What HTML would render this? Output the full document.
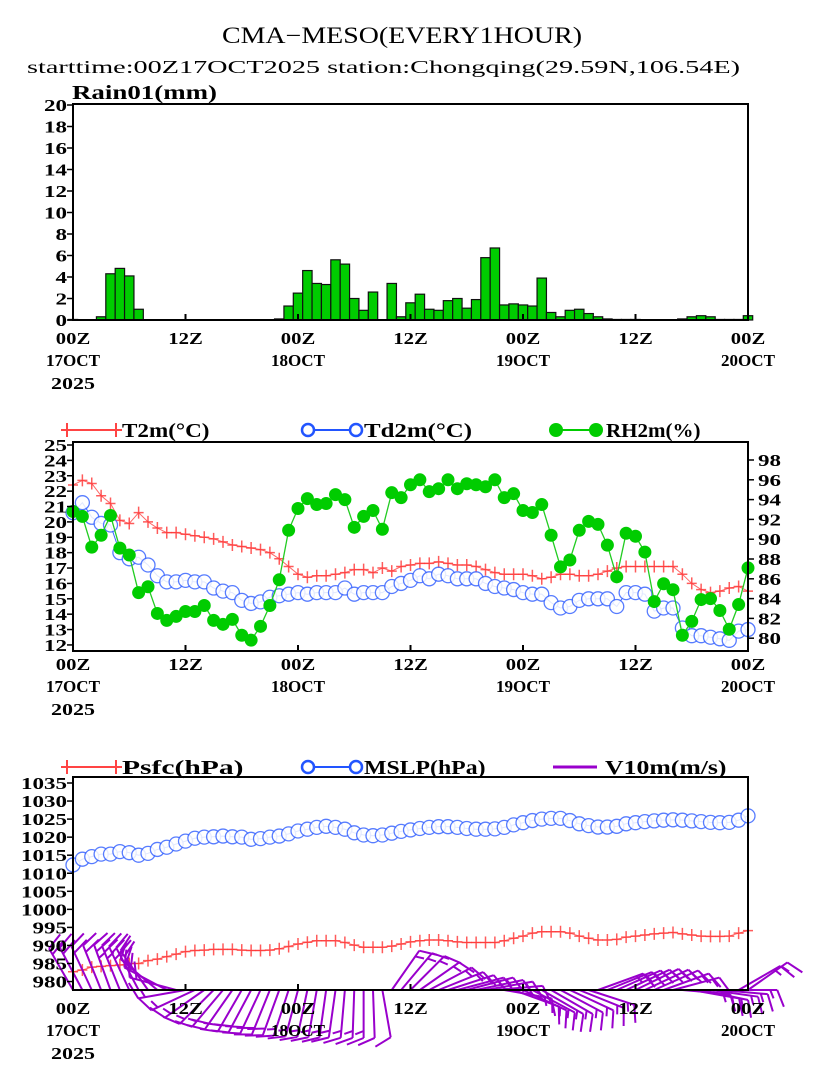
<!DOCTYPE html>
<html><head><meta charset="utf-8">
<style>
body{margin:0;background:#fff;}
svg text{font-family:"Liberation Serif",serif;fill:#000;}
.t{font-weight:bold;font-size:17px;}
</style></head>
<body>
<svg id="chart" width="822" height="1065" viewBox="0 0 822 1065" xmlns="http://www.w3.org/2000/svg">
<rect width="822" height="1065" fill="#fff"/>
<text x="402" y="43" text-anchor="middle" font-size="23" textLength="360" lengthAdjust="spacingAndGlyphs">CMA−MESO(EVERY1HOUR)</text>
<text x="27" y="73" font-size="18" textLength="713" lengthAdjust="spacingAndGlyphs">starttime:00Z17OCT2025    station:Chongqing(29.59N,106.54E)</text>
<g id="g1"></g>
<g id="g2"></g>
<g id="g3"></g>
</svg>
<script>
const hours = Array.from({length:73},(_, i)=>i);
const rain = [0.05,0,0,0.3,4.3,4.8,4.1,1.0,0,0, 0,0,0,0,0,0,0,0,0,0, 0,0,0.1,1.3,2.5,4.6,3.4,3.3,5.6,5.2, 2.0,0.9,2.6,0,3.4,0.3,1.6,2.4,1.0,0.9, 1.8,2.0,1.1,1.9,5.8,6.7,1.4,1.5,1.4,1.3, 3.9,0.7,0.3,0.9,1.0,0.6,0.3,0.1,0.05,0.05, 0.05,0,0,0,0,0.1,0.3,0.4,0.3,0.05, 0.05,0.05,0.4];
const t2m = [22.4,22.7,22.5,21.7,21.2,20.1,19.9,20.6,20.0,19.6,19.3,19.3,19.2,19.1,19.0,18.9,18.7,18.5,18.4,18.3,18.2,18.0,17.6,17.1,16.6,16.4,16.5,16.5,16.6,16.7,16.9,16.9,16.7,17.0,16.8,17.1,17.2,17.3,
17.3,17.4,17.3,17.2,17.2,17.1,16.9,16.7,16.6,16.6,16.6,16.5,16.3,16.4,16.6,16.6,16.5,16.5,16.6,16.8,17.0,17.1,17.1,17.1,17.1,17.1,17.1,16.6,16.0,15.6,15.4,15.5,15.7,15.8,15.5];
const td2m = [20.6,21.25,20.3,19.9,19.8,18.0,17.6,17.7,17.2,16.5,16.1,16.1,16.2,16.1,16.1,15.7,15.5,15.4,14.9,14.7,14.8,15.1,15.2,15.3,15.4,15.3,15.4,15.4,15.4,15.7,15.3,15.4,15.4,15.4,15.8,16.0,16.2,16.5,
16.3,16.6,16.5,16.3,16.3,16.3,16.0,15.8,15.7,15.6,15.4,15.3,15.3,14.75,14.4,14.5,14.9,15.0,15.0,15.0,14.5,15.4,15.4,15.3,14.2,14.4,14.4,13.1,12.6,12.6,12.5,12.4,12.3,12.9,13.0];
const rh2m = [92.8,92.3,89.2,90.4,92.4,89.1,88.4,84.6,85.2,82.5,81.8,82.2,82.7,82.7,83.3,81.8,81.4,81.9,80.3,79.8,81.2,83.3,85.9,90.9,93.1,94.1,93.5,93.6,94.5,94.0,91.2,92.3,92.9,91.0,94.7,94.2,95.5,96.0,
94.8,95.1,96.0,95.1,95.6,95.5,95.3,96.0,94.2,94.6,92.9,92.7,93.5,90.4,87.2,87.9,90.9,91.8,91.5,89.4,86.2,90.6,90.3,88.7,83.7,85.5,84.9,80.3,81.7,83.9,84.0,82.8,80.9,83.4,87.1];
const mslp = [1012.3,1013.9,1014.6,1015.3,1015.3,1016,1015.7,1015,1015.5,1016.6,1017.2,1018.1,1018.9,1019.7,1020,1020.1,1020.3,1020.1,1020,1019.4,1019.6,1020,1020.3,1020.9,1021.7,1022.2,1022.7,1023,1022.7,1022.2,1021.2,1020.6,1020.4,1020.6,1021.1,1021.6,1022.0,1022.4,1022.7,1022.9,1022.9,1022.7,1022.4,1022.2,1022.2,1022.3,1022.7,1023.4,1024,1024.6,1025,1025.2,1025.2,1024.6,1023.7,1023.2,1022.8,1022.8,1023.0,1023.7,1024,1024.3,1024.5,1024.7,1024.8,1024.7,1024.5,1024.3,1024.1,1024,1024.1,1024.7,1025.9];
const psfc = [982.7,983.2,984,984.2,984.4,984.6,985,985,985.8,986.2,986.9,987.6,988.3,988.6,988.7,988.9,988.9,988.9,988.7,988.6,988.6,988.7,989.1,989.7,990.4,990.9,991.3,991.3,991.3,990.8,990.1,989.5,989.5,989.5,989.8,990.4,991,991.3,991.5,991.5,991.3,991,990.8,990.8,990.8,990.8,991.3,992,992.6,993.4,993.8,993.8,993.8,993.4,992.6,992,991.5,991.5,991.7,992.3,992.6,992.9,993.2,993.4,993.6,993.2,992.9,992.6,992.5,992.5,992.6,993.4,994.1];
const windAng = [-30,-28,-25,-22,-20,-22,-25,-28,-35,-50,-62,-75,-100,-115,-125,-135,-140,-145,-150,-152,-155,-158,-160,-162,-165,-168,-170,-172,-172,-175,-178,180,178,170,35,40,45,55,62,68,72,75,75,78,80,85,100,110,115,118,120,120,118,115,112,108,70,68,66,65,64,65,66,70,75,95,100,102,98,95,90,60,55];
const windSpd = [8,8,9,9,10,10,10,9,9,8,8,8,7,7,7,7,7,8,8,8,8,8,8,7,7,7,7,6,6,6,6,6,5,5,6,6,7,7,7,7,7,7,7,6,6,6,6,6,7,7,7,7,7,6,6,6,6,6,6,6,7,7,7,7,6,6,6,6,6,6,6,6,6];
const rainTicks=[0,2,4,6,8,10,12,14,16,18,20];
const tTicks=[12,13,14,15,16,17,18,19,20,21,22,23,24,25];
const rhTicks=[80,82,84,86,88,90,92,94,96,98];
const pTicks=[980,985,990,995,1000,1005,1010,1015,1020,1025,1030,1035];
const xTicks=[0,12,24,36,48,60,72];
const xLab1=["00Z","12Z","00Z","12Z","00Z","12Z","00Z"];
const xLab2=["17OCT","","18OCT","","19OCT","","20OCT"];

const NS="http://www.w3.org/2000/svg";
function mk(p,tag,at){const e=document.createElementNS(NS,tag);for(const k in at)e.setAttribute(k,at[k]);p.appendChild(e);return e;}
function fit(t,cw){t.setAttribute('textLength',String(t.textContent.length*cw));t.setAttribute('lengthAdjust','spacingAndGlyphs');}
const X0=73,X1=748;
const xS=h=>X0+h*(X1-X0)/72;
const yR=v=>320-v*10.75;
const yT=v=>445+(25-v)*15.38;
const yH=v=>460+(98-v)*9.9;
const yP=v=>783+(1035-v)*3.61;

function xAxis(g,yb,yl){
  xTicks.forEach((h,k)=>{
    mk(g,'line',{x1:xS(h),x2:xS(h),y1:yb,y2:yb-6,stroke:'#000','stroke-width':2});
    let t=mk(g,'text',{x:xS(h),y:yl,'text-anchor':'middle',class:'t'});t.textContent=xLab1[k];fit(t,11.5);
    
    
    if(xLab2[k]){let t2=mk(g,'text',{x:xS(h),y:yl+22,'text-anchor':'middle',class:'t'});t2.textContent=xLab2[k];fit(t2,10.8);
      
      }
  });
  let y=mk(g,'text',{x:xS(0),y:yl+45,'text-anchor':'middle',class:'t'});y.textContent='2025';fit(y,11);
  
  
}
function yAxis(g,ticks,f,x,right){
  ticks.forEach(v=>{
    mk(g,'line',{x1:x,x2:right?x+6:x-6,y1:f(v),y2:f(v),stroke:'#000','stroke-width':1.5});
    let t=mk(g,'text',{x:right?x+10:x-6,y:f(v)+6,'text-anchor':right?'start':'end',class:'t'});t.textContent=v;fit(t,11.5);
    
    
  });
}
function cross(g,x,y,c){mk(g,'path',{d:`M${x-5},${y}H${x+5}M${x},${y-6}V${y+6}`,stroke:c,'stroke-width':1.5,opacity:0.8});}
function circ(g,x,y){mk(g,'circle',{cx:x,cy:y,r:7,fill:'#fff',stroke:'#3a66ff','stroke-width':1.3,opacity:0.85});}
function dot(g,x,y){mk(g,'circle',{cx:x,cy:y,r:6.5,fill:'#00cc00'});}
function line(g,arr,f,c,w){mk(g,'polyline',{points:arr.map((v,i)=>xS(i)+','+f(v)).join(' '),fill:'none',stroke:c,'stroke-width':w});}

// Panel 1
const g1=document.getElementById('g1');
rain.forEach((v,i)=>{ if(v<=0) return;
  const b=mk(g1,'rect',{x:xS(i)-4.7,y:yR(v),width:9.4,height:Math.max(320-yR(v),0.8),fill:'#00cc00',stroke:'#111','stroke-width':1.2});
  
  
});
mk(g1,'rect',{x:X0,y:104,width:X1-X0,height:216,fill:'none',stroke:'#000','stroke-width':2});
yAxis(g1,rainTicks,yR,X0,false);
xAxis(g1,320,344);
let rt=mk(g1,'text',{x:72,y:99,class:'t'});rt.textContent='Rain01(mm)';fit(rt,14.5);

// Panel 2
const g2=document.getElementById('g2');
line(g2,t2m,yT,'#ff6666',1);
t2m.forEach((v,i)=>cross(g2,xS(i),yT(v),'#ff3333'));
line(g2,td2m,yT,'#3a66ff',1);
td2m.forEach((v,i)=>circ(g2,xS(i),yT(v)));
line(g2,rh2m,yH,'#22cc22',1.3);
rh2m.forEach((v,i)=>dot(g2,xS(i),yH(v)));
mk(g2,'rect',{x:X0,y:442,width:X1-X0,height:209,fill:'none',stroke:'#000','stroke-width':2});
yAxis(g2,tTicks,yT,X0,false);
yAxis(g2,rhTicks,yH,X1,true);
xAxis(g2,651,670);
// legend 2
mk(g2,'line',{x1:65,x2:118,y1:430,y2:430,stroke:'#ff4444','stroke-width':2});
[67,116].forEach(x=>mk(g2,'path',{d:`M${x-6},430H${x+6}M${x},423V437`,stroke:'#ff4444','stroke-width':2}));
let l1=mk(g2,'text',{x:122,y:437,class:'t'});l1.textContent='T2m(°C)';fit(l1,12.5);
mk(g2,'line',{x1:308,x2:356,y1:430,y2:430,stroke:'#2255ff','stroke-width':2});
[308,356].forEach(x=>mk(g2,'circle',{cx:x,cy:430,r:6,fill:'#fff',stroke:'#2255ff','stroke-width':2.5}));
let l2=mk(g2,'text',{x:364,y:437,class:'t'});l2.textContent='Td2m(°C)';fit(l2,13.5);
mk(g2,'line',{x1:556,x2:596,y1:430,y2:430,stroke:'#00cc00','stroke-width':2});
[556,596].forEach(x=>mk(g2,'circle',{cx:x,cy:430,r:7,fill:'#00cc00'}));
let l3=mk(g2,'text',{x:606,y:437,class:'t'});l3.textContent='RH2m(%)';fit(l3,13.5);

// Panel 3
const g3=document.getElementById('g3');
line(g3,psfc,yP,'#ff6666',1);
psfc.forEach((v,i)=>cross(g3,xS(i),yP(v),'#ff3333'));
line(g3,mslp,yP,'#3a66ff',1);
mslp.forEach((v,i)=>circ(g3,xS(i),yP(v)));
windAng.forEach((a,i)=>{
  const r=a*Math.PI/180, L=48, bx=xS(i), by=990;
  const dx=Math.sin(r), dy=-Math.cos(r);
  const tx=bx+dx*L, ty=by+dy*L;
  let d=`M${bx},${by}L${tx},${ty}`;
  let s=windSpd[i], pos=0;
  const br=r+Math.PI*0.38, fx=Math.sin(br), fy=-Math.cos(br);
  while(s>=4){const px=tx-dx*pos, py=ty-dy*pos; d+=`M${px},${py}l${fx*18},${fy*18}`; s-=4; pos+=7;}
  if(s>=2){const px=tx-dx*pos, py=ty-dy*pos; d+=`M${px},${py}l${fx*9},${fy*9}`;}
  const p=mk(g3,'path',{d:d,stroke:'#9900cc','stroke-width':2,fill:'none'});
  
  
});
mk(g3,'rect',{x:X0,y:777,width:X1-X0,height:213,fill:'none',stroke:'#000','stroke-width':2});
yAxis(g3,pTicks,yP,X0,false);
xAxis(g3,990,1014);
mk(g3,'line',{x1:65,x2:118,y1:767,y2:767,stroke:'#ff4444','stroke-width':2});
[67,116].forEach(x=>mk(g3,'path',{d:`M${x-6},767H${x+6}M${x},760V774`,stroke:'#ff4444','stroke-width':2}));
let l4=mk(g3,'text',{x:122,y:774,class:'t'});l4.textContent='Psfc(hPa)';fit(l4,13.5);
mk(g3,'line',{x1:308,x2:356,y1:767,y2:767,stroke:'#2255ff','stroke-width':2});
[308,356].forEach(x=>mk(g3,'circle',{cx:x,cy:767,r:6,fill:'#fff',stroke:'#2255ff','stroke-width':2.5}));
let l5=mk(g3,'text',{x:364,y:774,class:'t'});l5.textContent='MSLP(hPa)';fit(l5,13.5);
mk(g3,'line',{x1:553,x2:597,y1:767,y2:767,stroke:'#9900cc','stroke-width':3});
let l6=mk(g3,'text',{x:605,y:774,class:'t'});l6.textContent='V10m(m/s)';fit(l6,13.5);
[rt,l1,l2,l3,l4,l5,l6].forEach(e=>{e.style.fontSize='20px';});














</script>
</body></html>
